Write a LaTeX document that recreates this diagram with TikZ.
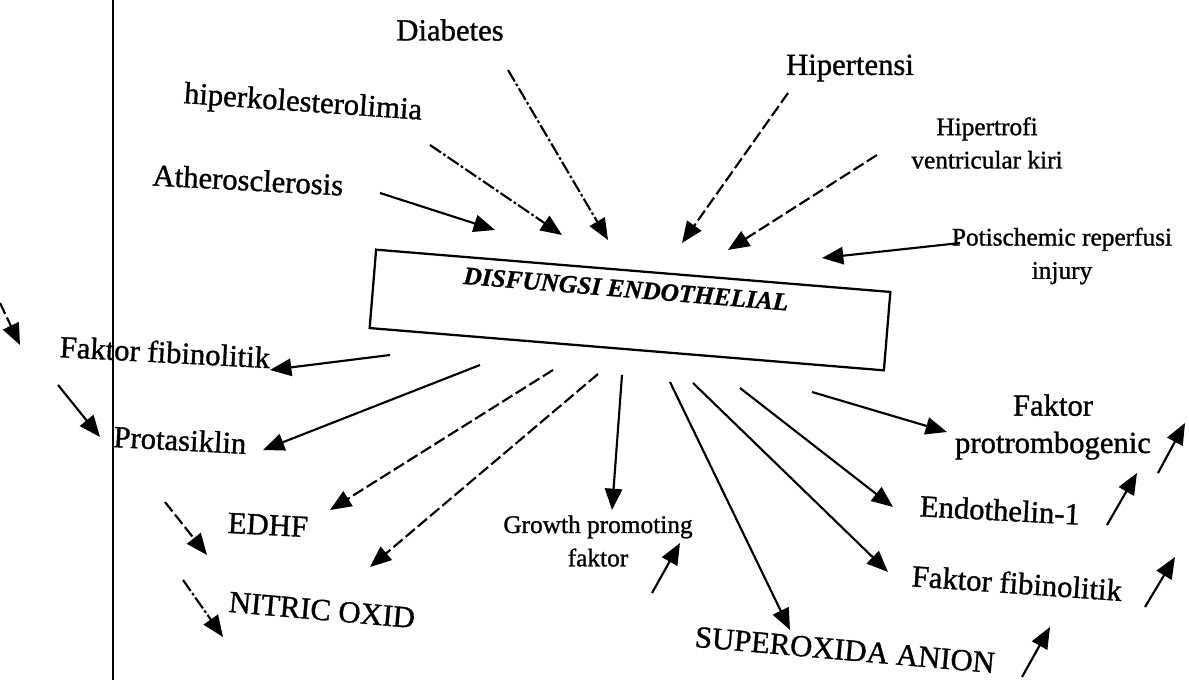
\documentclass[tikz,border=0pt]{standalone}
\usepackage{fontspec}
\setmainfont{Liberation Serif}
\newfontfamily\scanfont{Liberation Serif}[FakeBold=1.1]
\newfontfamily\scantitle{Liberation Serif Bold Italic}[FakeBold=1.0]
\usetikzlibrary{arrows.meta}
\begin{document}
\begin{tikzpicture}[x=0.75pt,y=-0.75pt,
  lbl/.style={font=\scanfont\fontsize{23}{28}\selectfont, inner sep=1pt, align=center},
  sml/.style={font=\scanfont\fontsize{19}{25}\selectfont, inner sep=1pt, align=center},
  arr/.style={line width=1.6pt, -{Triangle[length=16pt,width=13pt]}},
  dsh/.style={arr, dash pattern=on 9pt off 3pt},
  dshdot/.style={arr, dash pattern=on 10pt off 2pt on 2pt off 2pt},
]
\useasboundingbox (0,0) rectangle (1189,680);
% left margin rule
\coordinate (vt) at (113,0);
\coordinate (vb) at (113,680);
\draw[line width=1.6pt] (vt) -- (vb);

% central box
\node[draw, line width=1.7pt, rotate=-4.7, minimum width=387pt, minimum height=59pt] (box) at (630,310) {};
\node[font=\scantitle\fontsize{19}{22}\selectfont, rotate=-4.7] (title) at (626,289) {DISFUNGSI ENDOTHELIAL};

% causes (top)
\node[lbl] (diab) at (450,30) {Diabetes};
\node[lbl, rotate=-4] (hiper) at (303,104) {hiperkolesterolimia};
\node[lbl, rotate=-3] (ather) at (248,180) {Atherosclerosis};
\node[lbl] (hipt) at (850,68) {Hipertensi};
\node[sml] (hvk) at (987,143) {Hipertrofi\\ventricular kiri};
\node[sml] (post) at (1062,256) {Potischemic reperfusi\\injury};

% effects (bottom)
\node[lbl, rotate=-3] (ffl) at (165,352) {Faktor fibinolitik};
\node[lbl, rotate=-3] (prot) at (180,440) {Protasiklin};
\node[lbl, rotate=-3] (edhf) at (268,525) {EDHF};
\node[lbl, rotate=-5] (nitric) at (322,610) {NITRIC OXID};
\node[sml] (gpf) at (598,541) {Growth promoting\\faktor};
\node[lbl, rotate=-5] (sup) at (845,650) {SUPEROXIDA ANION};
\node[lbl, rotate=-4] (ffr) at (1017,583) {Faktor fibinolitik};
\node[lbl, rotate=-3] (endo) at (1000,510) {Endothelin-1};
\node[lbl] (fp) at (1053,427) {Faktor\\protrombogenic};

% arrow end points
\coordinate (s1) at (380,193);  \coordinate (e1) at (495,230);
\coordinate (s2) at (430,145);  \coordinate (e2) at (562,235);
\coordinate (s3) at (508,70);   \coordinate (e3) at (608,240);
\coordinate (s4) at (788,93);   \coordinate (e4) at (682,243);
\coordinate (s5) at (877,155);  \coordinate (e5) at (728,250);
\coordinate (s6) at (960,243);  \coordinate (e6) at (822,258);

\draw[arr]    (s1) -- (e1);
\draw[dshdot] (s2) -- (e2);
\draw[dshdot] (s3) -- (e3);
\draw[dsh]    (s4) -- (e4);
\draw[dsh]    (s5) -- (e5);
\draw[arr]    (s6) -- (e6);

% outgoing arrows
\coordinate (o1) at (390,355);  \coordinate (t1) at (270,370);
\coordinate (o2) at (480,365);  \coordinate (t2) at (263,450);
\coordinate (o3) at (553,370);  \coordinate (t3) at (330,510);
\coordinate (o4) at (598,374);  \coordinate (t4) at (370,567);
\coordinate (o5) at (622,375);  \coordinate (t5) at (612,510);
\coordinate (o6) at (670,382);  \coordinate (t6) at (790,630);
\coordinate (o7) at (693,383);  \coordinate (t7) at (888,572);
\coordinate (o8) at (740,388);  \coordinate (t8) at (893,507);
\coordinate (o9) at (812,392);  \coordinate (t9) at (947,432);

\draw[arr] (o1) -- (t1);
\draw[arr] (o2) -- (t2);
\draw[dsh] (o3) -- (t3);
\draw[dsh] (o4) -- (t4);
\draw[arr] (o5) -- (t5);
\draw[arr] (o6) -- (t6);
\draw[arr] (o7) -- (t7);
\draw[arr] (o8) -- (t8);
\draw[arr] (o9) -- (t9);

% small side arrows (left)
\coordinate (l1s) at (0,303);   \coordinate (l1e) at (20,345);
\coordinate (l2s) at (58,385);  \coordinate (l2e) at (100,437);
\coordinate (l3s) at (165,502); \coordinate (l3e) at (207,555);
\coordinate (l4s) at (183,580); \coordinate (l4e) at (223,637);
\draw[dsh]    (l1s) -- (l1e);
\draw[arr]    (l2s) -- (l2e);
\draw[dsh]    (l3s) -- (l3e);
\draw[dshdot] (l4s) -- (l4e);

% small upward arrows (right)
\coordinate (u1s) at (652,593);  \coordinate (u1e) at (680,543);
\coordinate (u2s) at (1158,473); \coordinate (u2e) at (1185,423);
\coordinate (u3s) at (1107,525); \coordinate (u3e) at (1137,473);
\coordinate (u4s) at (1145,607); \coordinate (u4e) at (1175,557);
\coordinate (u5s) at (1022,677); \coordinate (u5e) at (1050,627);
\draw[arr] (u1s) -- (u1e);
\draw[arr] (u2s) -- (u2e);
\draw[arr] (u3s) -- (u3e);
\draw[arr] (u4s) -- (u4e);
\draw[arr] (u5s) -- (u5e);
\end{tikzpicture}
\end{document}
